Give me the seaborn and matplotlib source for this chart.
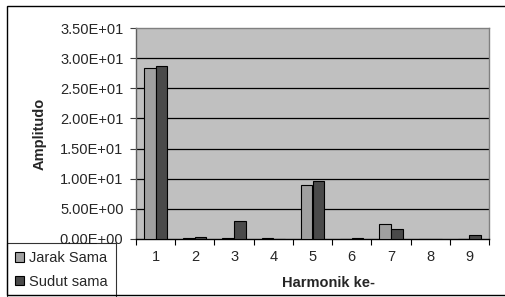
import pandas as pd
import matplotlib
matplotlib.use("Agg")
import matplotlib.pyplot as plt
import seaborn as sns
from matplotlib.patches import Rectangle
from matplotlib.ticker import FixedLocator

# values
harmonics = ["1", "2", "3", "4", "5", "6", "7", "8", "9"]
jarak_sama = [28.3, 0.1, 0.1, 0.1, 9.0, 0.0, 2.55, 0.0, 0.0]
sudut_sama = [28.7, 0.35, 3.0, 0.05, 9.6, 0.15, 1.7, 0.0, 0.6]
series_names = ["Jarak Sama", "Sudut sama"]
y_ticks = [0, 5, 10, 15, 20, 25, 30, 35]

df = pd.DataFrame({
    "harmonik": harmonics * 2,
    "amp": jarak_sama + sudut_sama,
    "seri": [series_names[0]] * 9 + [series_names[1]] * 9,
})

sns.set_style("white")
plt.rcParams["font.family"] = ["Liberation Sans", "DejaVu Sans"]
fs = 10.5

W, H = 506, 297
fig = plt.figure(figsize=(W / 100, H / 100), dpi=100)
ax = fig.add_axes([136 / W, 1 - 239 / H, (489 - 136) / W, (239 - 28) / H])
ax.set_facecolor("#c0c0c0")

sns.barplot(data=df, x="harmonik", y="amp", hue="seri", order=harmonics,
            palette=["#a0a0a0", "#4a4a4a"], width=0.59, gap=0,
            edgecolor="black", linewidth=0.8, ax=ax, zorder=3, legend=True)

ax.set_ylim(0, 35)
ax.set_xlim(-0.5, 8.5)
ax.set_yticks(y_ticks)
ax.set_yticklabels(["%.2E" % v for v in y_ticks], fontsize=fs)
for v in y_ticks[1:-1]:
    ax.axhline(v, color="black", lw=0.9, zorder=1)

ax.tick_params(axis="y", which="major", length=4, width=0.8, color="#404040",
               left=True, pad=5)
ax.tick_params(axis="x", which="major", length=0, labelsize=fs, pad=8)
ax.xaxis.set_minor_locator(FixedLocator([i - 0.5 for i in range(10)]))
ax.tick_params(axis="x", which="minor", length=4, width=0.8, color="black",
               bottom=True)

for s in ["top", "right"]:
    ax.spines[s].set_color("#808080")
    ax.spines[s].set_linewidth(1.0)
ax.spines["left"].set_color("#606060")
ax.spines["bottom"].set_color("black")
ax.spines["left"].set_linewidth(1.0)
ax.spines["bottom"].set_linewidth(1.0)

ax.set_xlabel("Harmonik ke-", fontsize=fs, fontweight="bold")
ax.xaxis.set_label_coords((329 - 136) / (489 - 136), -(276 - 239) / (239 - 28))
ax.set_ylabel("Amplitudo", fontsize=fs, fontweight="bold")
ax.yaxis.set_label_coords(-(136 - 47) / (489 - 136), 0.5)

handles, labels = ax.get_legend_handles_labels()
ax.legend(handles, labels, loc="upper left", bbox_to_anchor=(7 / W, 1 - 243 / H),
          bbox_transform=fig.transFigure, fontsize=fs, frameon=True,
          fancybox=False, edgecolor="black", handlelength=0.6,
          handleheight=0.6, handletextpad=0.35, borderpad=0.55,
          labelspacing=0.65, borderaxespad=0)
ax.get_legend().get_frame().set_linewidth(0.8)

# outer chart border
fig.patches.append(Rectangle((7 / W, 2 / H), 1.2, 1 - 8 / H, transform=fig.transFigure,
                             fill=False, edgecolor="black", lw=1.0))

fig.savefig("out.png", dpi=100)
